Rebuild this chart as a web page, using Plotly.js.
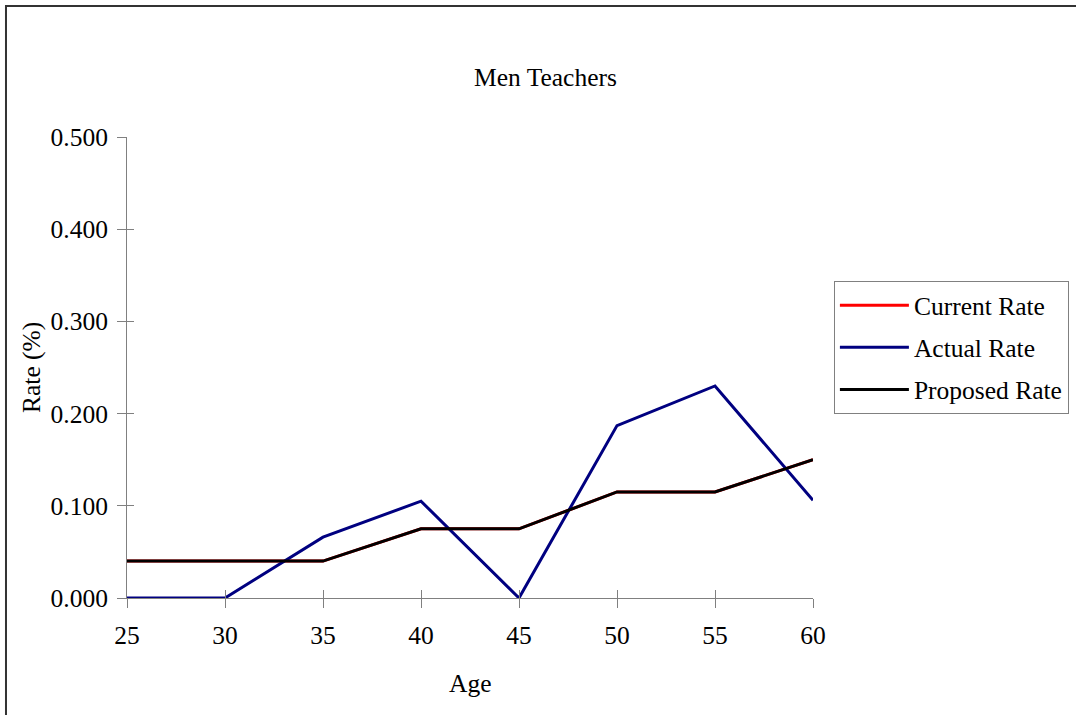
<!DOCTYPE html>
<html>
<head>
<meta charset="utf-8">
<script src="https://cdn.plot.ly/plotly-3.0.1.min.js"></script>
<style>
  html, body { margin: 0; padding: 0; background: #ffffff; }
  #chart { width: 1076px; height: 715px; }
</style>
</head>
<body>
<div id="chart"></div>
<script>
// Withdrawal rates by age for men teachers
const ages = [25, 30, 35, 40, 45, 50, 55, 60];
const currentRate  = [0.040, 0.040, 0.040, 0.075, 0.075, 0.115, 0.115, 0.150];
const actualRate   = [0.000, 0.000, 0.066, 0.105, 0.000, 0.187, 0.230, 0.106];
const proposedRate = [0.040, 0.040, 0.040, 0.075, 0.075, 0.115, 0.115, 0.150];

const serif = 'Liberation Serif, Times New Roman, serif';
const axisGray = '#808080';
const fs = 25.5;

const traces = [
  { x: ages, y: currentRate, name: 'Current Rate', mode: 'lines', legendgroup: 'a',
    line: { color: '#ff0000', width: 3 } },
  { x: ages, y: actualRate, name: 'Actual Rate', mode: 'lines', legendgroup: 'b',
    line: { color: '#000080', width: 3 } },
  { x: ages, y: proposedRate, name: 'Proposed Rate', mode: 'lines', legendgroup: 'c',
    line: { color: '#000000', width: 3 } },
  // invisible trace to carry the inner tick marks
  { x: [ages[0]], y: [0], xaxis: 'x2', yaxis: 'y2', mode: 'markers',
    marker: { opacity: 0 }, showlegend: false, hoverinfo: 'skip' }
];

const layout = {
  width: 1076, height: 715,
  margin: { l: 127, r: 263, t: 137, b: 117 },
  paper_bgcolor: '#ffffff', plot_bgcolor: '#ffffff',
  font: { family: serif, size: fs, color: '#000000' },
  showlegend: true,
  xaxis: {
    range: [25, 60], dtick: 5, tick0: 25, showgrid: false, zeroline: false,
    showline: true, linecolor: axisGray, linewidth: 1, automargin: false,
    ticks: 'outside', ticklen: 9, tickcolor: axisGray, tickwidth: 1, ticklabelstandoff: 5,
    tickfont: { family: serif, size: fs, color: '#000' }
  },
  yaxis: {
    range: [0, 0.5], dtick: 0.1, tick0: 0, tickformat: '.3f', showgrid: false, zeroline: false,
    showline: true, linecolor: axisGray, linewidth: 1, automargin: false,
    ticks: 'outside', ticklen: 9, tickcolor: axisGray, tickwidth: 1, ticklabelstandoff: 4,
    tickfont: { family: serif, size: fs, color: '#000' }
  },
  xaxis2: {
    overlaying: 'x', matches: 'x', range: [25, 60], dtick: 5, tick0: 25,
    showgrid: false, zeroline: false, showline: false, showticklabels: false,
    ticks: 'inside', ticklen: 8, tickcolor: axisGray, tickwidth: 1, side: 'bottom'
  },
  yaxis2: {
    overlaying: 'y', matches: 'y', range: [0, 0.5], dtick: 0.1, tick0: 0,
    showgrid: false, zeroline: false, showline: false, showticklabels: false,
    ticks: 'inside', ticklen: 7, tickcolor: axisGray, tickwidth: 1, side: 'left'
  },
  legend: {
    xref: 'container', yref: 'container',
    x: 0.775, y: 0.6069, xanchor: 'left', yanchor: 'top',
    bordercolor: '#808080', borderwidth: 1, bgcolor: '#ffffff',
    font: { family: serif, size: fs, color: '#000' },
    tracegroupgap: 6, itemwidth: 69
  },
  annotations: [
    { text: 'Men Teachers', xref: 'paper', yref: 'paper', x: 0.61, y: 1.13,
      xanchor: 'center', yanchor: 'middle', showarrow: false,
      font: { family: serif, size: fs, color: '#000' } },
    { text: 'Age', xref: 'paper', yref: 'paper', x: 0.5, y: -0.186,
      xanchor: 'center', yanchor: 'middle', showarrow: false,
      font: { family: serif, size: fs, color: '#000' } },
    { text: 'Rate (%)', xref: 'paper', yref: 'paper', x: -0.14, y: 0.501,
      xanchor: 'center', yanchor: 'middle', textangle: -90, showarrow: false,
      font: { family: serif, size: fs, color: '#000' } }
  ],
  shapes: [
    // chart frame
    { type: 'rect', xref: 'paper', yref: 'paper', x0: -0.1764, x1: 1.6, y0: -0.5, y1: 1.284,
      line: { color: '#333333', width: 2 }, layer: 'below' }
  ]
};

Plotly.newPlot('chart', traces, layout, { displayModeBar: false, staticPlot: true });
</script>
</body>
</html>
